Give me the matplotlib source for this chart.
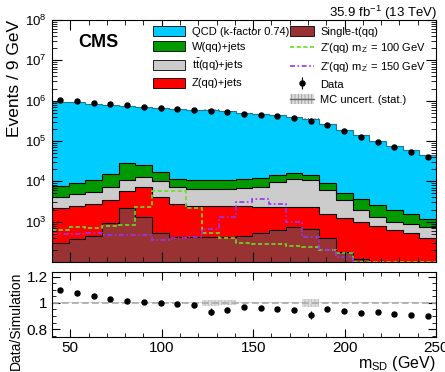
import numpy as np
import matplotlib
matplotlib.use("Agg")
import matplotlib.pyplot as plt
from matplotlib.patches import Patch
from matplotlib.lines import Line2D
from matplotlib.ticker import MultipleLocator, FixedLocator, LogLocator, NullFormatter

plt.rcParams['font.family'] = ['Liberation Sans', 'DejaVu Sans']
plt.rcParams['mathtext.fontset'] = 'custom'
plt.rcParams['mathtext.rm'] = 'Liberation Sans'
plt.rcParams['mathtext.it'] = 'Liberation Sans:italic'
plt.rcParams['mathtext.bf'] = 'Liberation Sans:bold'
plt.rcParams['mathtext.default'] = 'regular'
plt.rcParams['hatch.linewidth'] = 0.6

# 23 bins of ~9 GeV between 40 and 250 GeV
msd_low = 40
msd_high = 250
n_bins = 23

# stacked backgrounds (events per bin)
qcd = [919000, 903000, 837000, 779000, 719000, 678000, 643000, 613000, 588000, 579000,
       538000, 485000, 456000, 423000, 369000, 338000, 248000, 181000, 135000, 97400,
       74500, 57000, 43300]
wjets = [3590, 4130, 5220, 7380, 17200, 12800, 6600, 4400, 4260, 4260, 4510, 4720,
         5060, 4680, 4100, 3490, 2890, 1780, 1600, 1250, 950, 700, 440]
ttbar = [1930, 2330, 2740, 4030, 5210, 5470, 5830, 4260, 4000, 4060, 4060, 4360,
         4900, 7480, 9460, 8670, 4480, 2270, 950, 540, 380, 340, 370]
zjets = [1950, 2090, 2320, 2480, 3620, 6120, 3660, 2400, 2050, 1990, 1980, 1960,
         1830, 1670, 1550, 1630, 1150, 1020, 880, 710, 580, 480, 360]
single_t = [288, 363, 437, 912, 2140, 1290, 513, 417, 407, 407, 417, 437, 513, 617,
            741, 661, 398, 178, 117, 63, 40, 32, 25]

# signals
zprime_100 = [620, 740, 680, 790, 830, 2340, 5890, 5890, 2240, 510, 390, 300, 280,
              280, 250, 230, 200, 170, 101, 101, 101, 101, 101]
zprime_150 = [500, 500, 520, 460, 470, 470, 350, 400, 420, 660, 1320, 3020, 3550,
              2820, 1000, 420, 200, 135, 30, 30, 30, 30, 30]

# data
data = [1020000, 980000, 890000, 820000, 760000, 710000, 660000, 620000, 590000, 550000,
        520000, 480000, 450000, 417000, 365000, 319000, 245000, 174000, 128000, 93000,
        69800, 53000, 40000]

# relative MC stat uncertainty
mc_rel_unc = [0.003, 0.003, 0.003, 0.003, 0.003, 0.003, 0.003, 0.003, 0.003, 0.025,
              0.02, 0.003, 0.003, 0.003, 0.003, 0.03, 0.003, 0.003, 0.003, 0.003,
              0.003, 0.003, 0.003]

edges = np.linspace(msd_low, msd_high, n_bins + 1)
centers = 0.5 * (edges[1:] + edges[:-1])

fig = plt.figure(figsize=(4.45, 3.72), dpi=100)
ax = fig.add_axes([52 / 445, 1 - 262 / 372, 384 / 445, 242 / 372])
rax = fig.add_axes([52 / 445, 1 - 337 / 372, 384 / 445, 65 / 372])

components = [
    (single_t, '#993333', 'Single-t(qq)'),
    (zjets, '#ff0000', 'Z(qq)+jets'),
    (ttbar, '#cccccc', r'$\mathrm{t\bar{t}}$(qq)+jets'),
    (wjets, '#009900', 'W(qq)+jets'),
    (qcd, '#00ccff', 'QCD (k-factor 0.74)'),
]

bottom = np.full(n_bins, 1.0)
for vals, color, label in components:
    top = bottom + np.array(vals, dtype=float)
    ax.stairs(top, edges, baseline=bottom, fill=True, color=color, lw=0)
    bottom = top
bottom = np.full(n_bins, 1.0)
for vals, color, label in components:
    top = bottom + np.array(vals, dtype=float)
    edge_col = '#1b7a9a' if color == '#00ccff' else 'black'
    ax.stairs(top, edges, baseline=None, color=edge_col, lw=0.8)
    bottom = top
mc_total = bottom - 1.0

# MC uncertainty in main panel
ax.stairs(mc_total * (1 + np.array(mc_rel_unc)), edges, baseline=mc_total * (1 - np.array(mc_rel_unc)),
          fill=True, facecolor='none', edgecolor='#555555', hatch='|||||', lw=0)

z100_color = '#66dd22'
z150_color = '#9933ee'
ax.stairs(zprime_100, edges, baseline=None, color=z100_color, lw=1.2, ls=(0, (2.5, 1.5)))
ax.stairs(zprime_150, edges, baseline=None, color=z150_color, lw=1.2, ls=(0, (3, 1.5, 1, 1.5)))

data = np.array(data, dtype=float)
ax.errorbar(centers, data, yerr=np.sqrt(data), fmt='o', ms=3.6, color='black',
            elinewidth=0.8, capsize=0)

ax.set_yscale('log')
ax.set_ylim(100, 1e8)
ax.set_xlim(msd_low, msd_high)
ax.yaxis.set_major_locator(FixedLocator([1e3, 1e4, 1e5, 1e6, 1e7, 1e8]))
ax.set_yticklabels([r'$10^{%d}$' % e for e in range(3, 9)])
ax.yaxis.set_minor_locator(LogLocator(base=10, subs=np.arange(2, 10), numticks=20))
ax.yaxis.set_minor_formatter(NullFormatter())
ax.xaxis.set_major_locator(MultipleLocator(50))
ax.xaxis.set_minor_locator(MultipleLocator(10))
ax.tick_params(axis='x', labelbottom=False)
ax.tick_params(which='both', direction='in', top=True, right=True, labelsize=9.5, pad=4)
ax.tick_params(which='major', length=7, width=0.8)
ax.tick_params(which='minor', length=3.5, width=0.6)
ax.set_ylabel('Events / 9 GeV', fontsize=12.5, loc='top', labelpad=2)

fig.text(437 / 445, 1 - 17 / 372, r'35.9 fb$^{-1}$ (13 TeV)', ha='right', va='baseline', fontsize=9.5)
ax.text(0.068, 0.905, 'CMS', transform=ax.transAxes, fontsize=13, fontweight='bold', ha='left', va='center')

# legends
handles1 = [Patch(facecolor=c, edgecolor='black', lw=0.6) for _, c, _ in components[::-1][:4]]
labels1 = [lab for _, _, lab in components[::-1][:4]]
leg1 = ax.legend(handles1, labels1, loc='upper left', bbox_to_anchor=(153 / 445, 1 - 26 / 372),
                 bbox_transform=fig.transFigure, frameon=False, fontsize=8, borderpad=0,
                 borderaxespad=0, handlelength=2.9, handleheight=1.0, handletextpad=0.6,
                 labelspacing=0.42)
ax.add_artist(leg1)

mc_unc_handle = (Patch(facecolor='#dddddd', edgecolor='#999999', hatch='|||||', lw=0),
                 Line2D([], [], color='#666666', lw=1))
data_handle = (Line2D([], [], color='black', marker='o', ms=3.6, ls='none'),
               Line2D([], [], color='black', marker='|', ms=8, mew=0.8, ls='none'))
handles2 = [Patch(facecolor='#993333', edgecolor='black', lw=0.6),
            Line2D([], [], color=z100_color, lw=1.2, ls=(0, (2.5, 1.5))),
            Line2D([], [], color=z150_color, lw=1.2, ls=(0, (3, 1.5, 1, 1.5))),
            data_handle,
            mc_unc_handle]
labels2 = ['Single-t(qq)', r"Z'(qq) m$_{\mathrm{Z'}}$ = 100 GeV", r"Z'(qq) m$_{\mathrm{Z'}}$ = 150 GeV",
           'Data', 'MC uncert. (stat.)']
ax.legend(handles2, labels2, loc='upper left', bbox_to_anchor=(290 / 445, 1 - 26 / 372),
          bbox_transform=fig.transFigure, frameon=False, fontsize=8, borderpad=0,
          borderaxespad=0, handlelength=2.2, handleheight=1.0, handletextpad=0.5,
          labelspacing=0.42)

# ratio panel
ratio = data / mc_total
ratio_err = np.sqrt((np.sqrt(data) / data) ** 2 + np.array(mc_rel_unc) ** 2)
rax.axhline(1, color='#aaaaaa', lw=1.2, ls=(0, (4, 2)))
rax.stairs(1 + np.array(mc_rel_unc), edges, baseline=1 - np.array(mc_rel_unc), fill=True,
           facecolor='#dddddd', edgecolor='#bbbbbb', hatch='|||||', lw=0)
rax.errorbar(centers, ratio, yerr=ratio_err, fmt='o', ms=3.6, color='black',
             elinewidth=0.8, capsize=0)
rax.set_xlim(msd_low, msd_high)
rax.set_ylim(0.74, 1.235)
rax.set_yticks([0.8, 1.0, 1.2])
rax.set_yticklabels(['0.8', '1', '1.2'])
rax.xaxis.set_major_locator(MultipleLocator(50))
rax.xaxis.set_minor_locator(MultipleLocator(10))
rax.yaxis.set_minor_locator(MultipleLocator(0.05))
rax.tick_params(which='both', direction='in', top=True, right=True, labelsize=11, pad=3)
rax.tick_params(which='major', length=6, width=0.8)
rax.tick_params(which='minor', length=3, width=0.6)
rax.set_ylabel('Data/Simulation', fontsize=10, loc='top', labelpad=3)
rax.set_xlabel(r'm$_{\mathrm{SD}}$ (GeV)', fontsize=11.5, loc='right', labelpad=-1)

fig.savefig('out.png', dpi=100)
